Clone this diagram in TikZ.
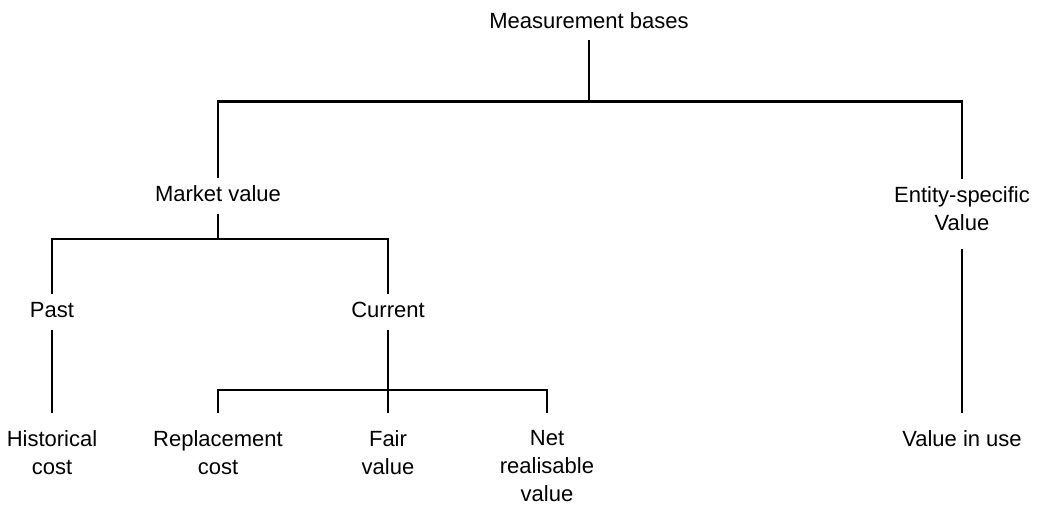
\documentclass[tikz,border=0pt]{standalone}
\usepackage{fontspec}
\setmainfont{Liberation Sans}
\usetikzlibrary{arrows}

\begin{document}
\begin{tikzpicture}[%
        x=1pt, y=-1pt,
        line width=2.4pt,
        every node/.style={font=\fontsize{22}{28}\selectfont, inner xsep=0pt},
        mid/.style={anchor=base, text height=16pt, text depth=4.5pt, inner ysep=6.5pt},
        leaf/.style={anchor=north, align=center, inner ysep=16.5pt}
      ]
      \useasboundingbox (0,0) rectangle (1037,504);
      \node (root) [mid] at (589,28) {Measurement bases};
      \node (mkt) [mid] at (218,201.7) {Market value};
      \node (ent) [anchor=north, align=center, inner ysep=6.5pt] at (962,179.3) {Entity-specific\\Value};
      \node (past) [mid] at (52,317.5) {Past};
      \node (cur) [mid] at (388,317.5) {Current};
      \node (hist) [leaf] at (52,413) {Historical\\cost};
      \node (repl) [leaf] at (218,413) {Replacement\\cost};
      \node (fair) [leaf] at (388,413) {Fair\\value};
      \node (net) [leaf] at (547,413) {Net\\realisable\\value};
      \node (use) [leaf] at (962,413) {Value in use};
      \coordinate (j1) at (589,101.5);
      \coordinate (j2) at (218,239);
      \coordinate (j3) at (388,390);
      \draw (root.south) -- (j1);
      \draw (mkt.north) |- (j1) -| (ent.north);
      \draw (mkt.south) -- (j2);
      \draw (past.north) |- (j2) -| (cur.north);
      \draw (past.south) -- (hist.north);
      \draw (cur.south) -- (fair.north);
      \draw (repl.north) |- (j3) -| (net.north);
      \draw[shorten <=10.5pt] (ent.south) -- (use.north);
    \end{tikzpicture}
\end{document}
